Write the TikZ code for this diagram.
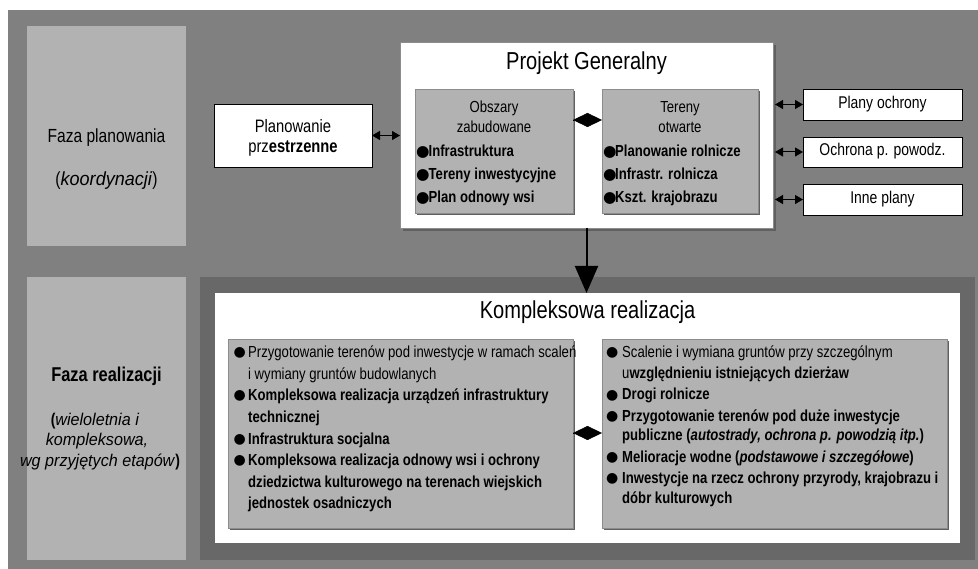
\documentclass[tikz,border=0pt]{standalone}
\usepackage{fontspec}
\setmainfont[FakeStretch=0.82,ItalicFeatures={FakeStretch=0.95}]{Liberation Sans}
\newfontfamily\symfont{DejaVu Sans}
\usetikzlibrary{arrows.meta,shadows}
\definecolor{bggray}{RGB}{128,128,128}
\definecolor{lightg}{RGB}{178,178,178}
\definecolor{darkg}{RGB}{104,104,104}
\definecolor{edgeg}{RGB}{140,140,140}
\definecolor{shadowg}{RGB}{96,96,96}
\newcommand\dotglyph{\raisebox{0.6pt}{\symfont\fontsize{15.5}{15.5}\selectfont ●}}
\newcommand\smalldot{\raisebox{1pt}{\symfont\fontsize{14}{14}\selectfont ●}}
\newcommand\bul{\makebox[13pt][l]{\hspace*{-1.5pt}\smalldot}}
\newcommand\rbul{\makebox[15pt][l]{\hspace*{-1pt}\smalldot}}
\newcommand\tbul{\makebox[12.5pt][l]{\dotglyph}}
\newcommand\ind{\hspace*{13pt}}
\newcommand\rind{\hspace*{15pt}}
\tikzset{
  rbox/.style={anchor=north west, inner sep=0pt, outer sep=0pt},
  phase/.style={rbox, fill=lightg},
  wbox/.style={rbox, fill=white, draw=black, line width=0.8pt},
  inbox/.style={rbox, fill=lightg, draw=edgeg, line width=0.8pt,
     drop shadow={shadow xshift=2pt, shadow yshift=-2pt, fill=shadowg, opacity=1}},
  dbl/.style={line width=1pt, {Triangle[length=8pt,width=9pt]}-{Triangle[length=8pt,width=9pt]}},
  dia/.style={line width=0.4pt, -{Diamond[length=29pt,width=14pt]}},
  lt/.style={inner sep=0pt, anchor=base west, font=\fontsize{16}{19}\selectfont},
  ct/.style={inner sep=0pt, anchor=base, font=\fontsize{16}{19}\selectfont},
  big/.style={inner sep=0pt, anchor=base, font=\fontsize{24.5}{28}\selectfont},
  mid/.style={inner sep=0pt, anchor=base, font=\fontsize{17}{20}\selectfont},
  phtxt/.style={inner sep=0pt, anchor=base, font=\fontsize{19}{22}\selectfont},
}
\begin{document}
\begin{tikzpicture}[x=1pt,y=-1pt]
\useasboundingbox (0,0) rectangle (978,569);
\fill[white] (0,0) rectangle (978,569);
% background and panels
\node[rbox, fill=bggray, minimum width=970pt, minimum height=559pt] (bg) at (8,10) {};
\node[phase, minimum width=159pt, minimum height=220pt] (fp) at (27,26) {};
\node[phase, minimum width=159pt, minimum height=283pt] (fr) at (27,277) {};
\node[rbox, fill=darkg, minimum width=775pt, minimum height=283pt] (dk) at (200,277) {};
\node[rbox, fill=white, minimum width=745pt, minimum height=250pt] (wb) at (215,293) {};
\node[inbox, minimum width=345pt, minimum height=189pt] (lb) at (228,339) {};
\node[inbox, minimum width=345pt, minimum height=189pt] (rb) at (602,339) {};
% planning boxes
\node[wbox, minimum width=158pt, minimum height=63pt] (pp) at (214,104) {};
\node[rbox, fill=white, draw=edgeg, line width=0.8pt, minimum width=373pt, minimum height=186pt,
      drop shadow={shadow xshift=3pt, shadow yshift=-3pt, fill=shadowg, opacity=1}] (pg) at (400,42) {};
\node[inbox, minimum width=158pt, minimum height=124pt] (ob) at (415,89) {};
\node[inbox, minimum width=156pt, minimum height=124pt] (te) at (602,89) {};
\node[wbox, minimum width=159pt, minimum height=31pt] (po) at (803,89) {};
\node[wbox, minimum width=159pt, minimum height=30pt] (op) at (803,137) {};
\node[wbox, minimum width=159pt, minimum height=31pt] (ip) at (803,184) {};
% connectors
\draw[dbl] (pp.east) -- (pp.east -| pg.west);
\draw[dbl] (po.west -| pg.east) ++(2pt,0) coordinate (a1) (a1) -- (po.west);
\draw[dbl] (op.west -| pg.east) ++(2pt,0) coordinate (a2) (a2) -- (op.west);
\draw[dbl] (ip.west -| pg.east) ++(2pt,0) coordinate (a3) (a3) -- (ip.west);
\draw[dia] (ob.east |- 0,120) coordinate (d1) (d1) -- (d1 -| te.west);
\draw[dia] (lb.east |- 0,433) coordinate (d2) (d2) -- (d2 -| rb.west);
\draw[line width=2pt, -{Triangle[length=27pt,width=23pt]}] (pg.south) -- (pg.south |- wb.north);
% phase texts
\node[phtxt] (fp1) at (106.5,143) {Faza planowania};
\node[phtxt] (fp2) at (106.5,186) {(\textit{koordynacji})};
\node[phtxt, font=\fontsize{20}{22}\selectfont\bfseries] (fr1) at (106.5,382) {Faza realizacji};
\node[mid] (fr2) at (95,426) {\textbf{(}\textit{wieloletnia i}};
\node[mid] (fr3) at (97,446) {\textit{kompleksowa,}};
\node[mid] (fr4) at (100,466) {\textit{wg przyjętych etapów}\textbf{)}};
% planning texts
\node[mid, font=\fontsize{18}{20}\selectfont] (pp1) at (293,133) {Planowanie};
\node[mid, font=\fontsize{18}{20}\selectfont] (pp2) at (293,153) {prz\textbf{estrzenne}};
\node[big] (pgt) at (586.5,70) {Projekt Generalny};
\node[ct] (ob1) at (494,113) {Obszary};
\node[ct] (ob2) at (494,133) {zabudowane};
\node[lt] (ob3) at (416,157) {\tbul\textbf{Infrastruktura}};
\node[lt] (ob4) at (416,180) {\tbul\textbf{Tereny inwestycyjne}};
\node[lt] (ob5) at (416,203) {\tbul\textbf{Plan odnowy wsi}};
\node[ct] (te1) at (680,113) {Tereny};
\node[ct] (te2) at (680,133) {otwarte};
\node[lt] (te3) at (603,157) {\makebox[12pt][l]{\dotglyph}\textbf{Planowanie rolnicze}};
\node[lt] (te4) at (603,180) {\makebox[12pt][l]{\dotglyph}\textbf{Infrastr. rolnicza}};
\node[lt] (te5) at (603,203) {\makebox[12pt][l]{\dotglyph}\textbf{Kszt. krajobrazu}};
\node[mid] (po1) at (po.center |- 0,109) {Plany ochrony};
\node[mid] (op1) at (op.center |- 0,156) {Ochrona p. powodz.};
\node[mid] (ip1) at (ip.center |- 0,204) {Inne plany};
% realization texts
\node[big] (kr) at (587.5,319) {Kompleksowa realizacja};
\node[lt] (l1) at (235,358) {\bul Przygotowanie terenów pod inwestycje w ramach scaleń};
\node[lt] (l2) at (235,380) {\ind i wymiany gruntów budowlanych};
\node[lt] (l3) at (235,401) {\bul\textbf{Kompleksowa realizacja urządzeń infrastruktury}};
\node[lt] (l4) at (235,423) {\ind\textbf{technicznej}};
\node[lt] (l5) at (235,444) {\bul\textbf{Infrastruktura socjalna}};
\node[lt] (l6) at (235,465) {\bul\textbf{Kompleksowa realizacja odnowy wsi i ochrony}};
\node[lt] (l7) at (235,487) {\ind\textbf{dziedzictwa kulturowego na terenach wiejskich}};
\node[lt] (l8) at (235,508) {\ind\textbf{jednostek osadniczych}};
\node[lt] (r1) at (607,358) {\rbul Scalenie i wymiana gruntów przy szczególnym};
\node[lt] (r2) at (607,379) {\rind u\textbf{względnieniu istniejących dzierżaw}};
\node[lt] (r3) at (607,400) {\rbul\textbf{Drogi rolnicze}};
\node[lt] (r4) at (607,421) {\rbul\textbf{Przygotowanie terenów pod duże inwestycje}};
\node[lt] (r5) at (607,441) {\rind\textbf{publiczne (\textit{autostrady, ochrona p. powodzią itp.})}};
\node[lt] (r6) at (607,462) {\rbul\textbf{Melioracje wodne (\textit{podstawowe i szczegółowe})}};
\node[lt] (r7) at (607,483) {\rbul\textbf{Inwestycje na rzecz ochrony przyrody, krajobrazu i}};
\node[lt] (r8) at (607,503) {\rind\textbf{dóbr kulturowych}};
\end{tikzpicture}
\end{document}
